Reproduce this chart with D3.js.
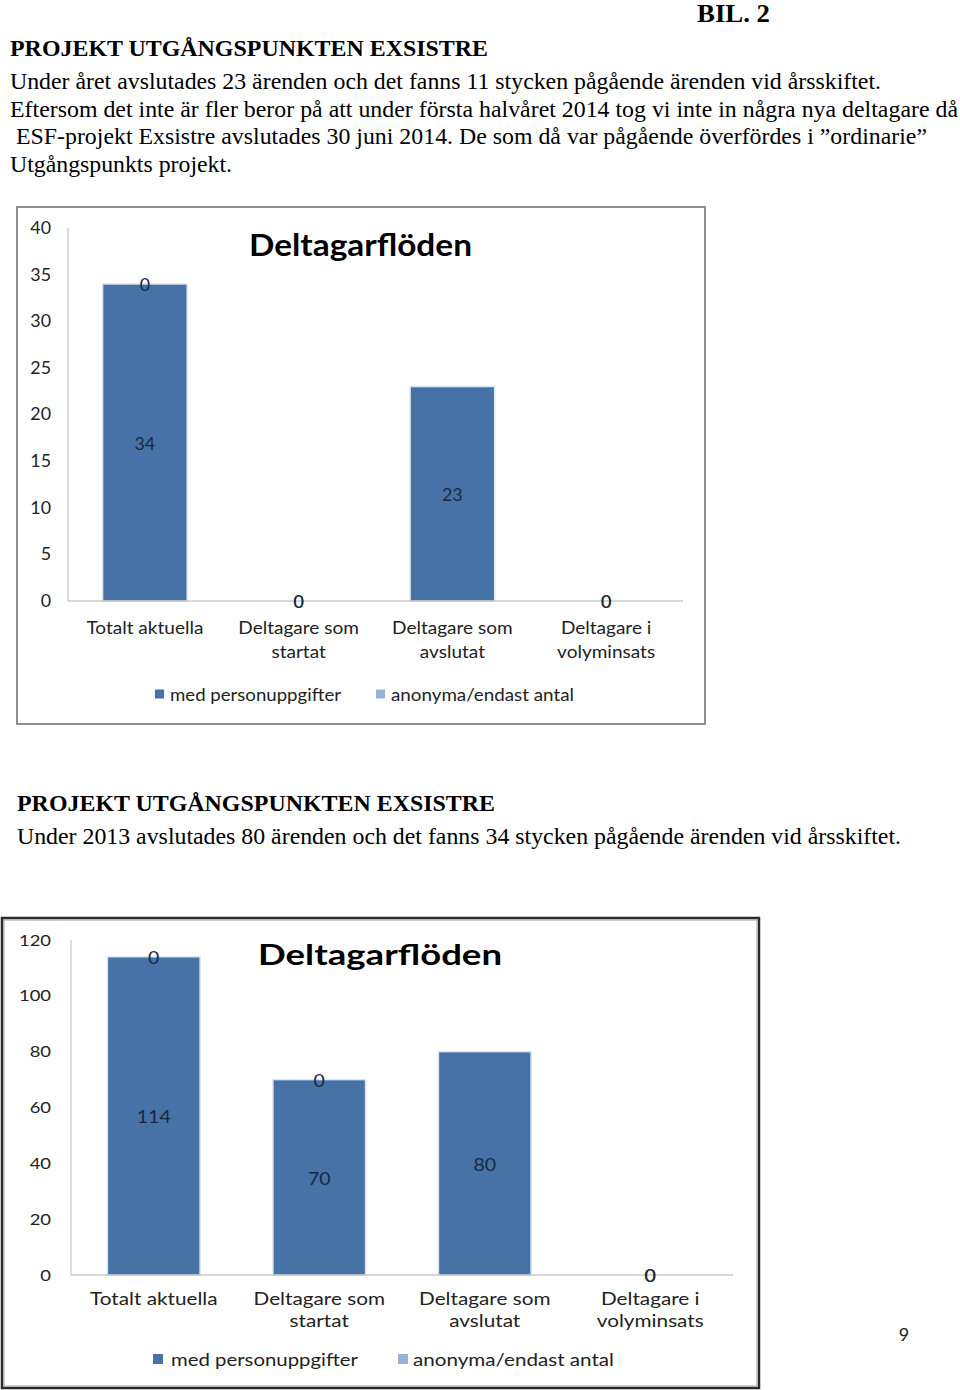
<!DOCTYPE html>
<html><head><meta charset="utf-8">
<script src="https://cdn.jsdelivr.net/npm/d3@7/dist/d3.min.js"></script>
<style>html,body{margin:0;padding:0;background:#fff;}svg{display:block;}</style>
</head><body>
<script>
// ---- Data ----
const categories = ["Totalt aktuella", "Deltagare som startat", "Deltagare som avslutat", "Deltagare i volyminsats"];
const categoryLines = [["Totalt aktuella"], ["Deltagare som", "startat"], ["Deltagare som", "avslutat"], ["Deltagare i", "volyminsats"]];
const seriesNames = ["med personuppgifter", "anonyma/endast antal"];
const chart1Med = [34, 0, 23, 0];
const chart1Anon = [0, 0, null, 0];
const chart1Ticks = [0, 5, 10, 15, 20, 25, 30, 35, 40];
const chart2Med = [114, 70, 80, 0];
const chart2Anon = [0, 0, null, 0];
const chart2Ticks = [0, 20, 40, 60, 80, 100, 120];
const chartTitle = "Deltagarflöden";

const textBlock1 = [
  "Under året avslutades 23 ärenden och det fanns 11 stycken pågående ärenden vid årsskiftet.",
  "Eftersom det inte är fler beror på att under första halvåret 2014 tog vi inte in några nya deltagare då",
  " ESF-projekt Exsistre avslutades 30 juni 2014. De som då var pågående överfördes i ”ordinarie”",
  "Utgångspunkts projekt."
];
const heading = "PROJEKT UTGÅNGSPUNKTEN EXSISTRE";
const textBlock2 = "Under 2013 avslutades 80 ärenden och det fanns 34 stycken pågående ärenden vid årsskiftet.";

const colors = ["#4672a8", "#95b3d7"];
const serif = "'Liberation Serif','Times New Roman',serif";
const sans = "Lato,'Open Sans',sans-serif";

const svg = d3.select("body").append("svg").attr("width", 960).attr("height", 1390);

// ---- Page text ----
function ptext(str, x, y, size, weight, len) {
  const t = svg.append("text").attr("x", x).attr("y", y)
    .attr("font-family", serif).attr("font-size", size).attr("font-weight", weight || "normal")
    .attr("fill", "#000").attr("xml:space", "preserve").text(str);
  if (len) t.attr("textLength", len).attr("lengthAdjust", "spacingAndGlyphs");
  return t;
}
ptext("BIL. 2", 697, 22, 25, "bold", 73);
ptext(heading, 10, 56, 23, "bold", 478);
const body1Len = [871, 948, 917, 222];
textBlock1.forEach((s, i) => ptext(s, 10, 89 + i * 27.7, 23, "normal", body1Len[i]));
ptext(heading, 17, 811, 23, "bold", 478);
ptext(textBlock2, 17, 844, 23, "normal", 884);

svg.append("text").attr("x", 904).attr("y", 1341).attr("text-anchor", "middle")
  .attr("font-family", sans).attr("font-size", 18).attr("fill", "#222").text("9");

// ---- Chart function ----
function drawChart(cfg) {
  const g = svg.append("g");
  if (cfg.dark) {
    g.append("rect").attr("x", cfg.frame[0]).attr("y", cfg.frame[1]).attr("width", cfg.frame[2]).attr("height", cfg.frame[3])
      .attr("fill", "#fff").attr("stroke", "#2a2a2a").attr("stroke-width", 2.5);
    g.append("rect").attr("x", cfg.frame[0] + 2).attr("y", cfg.frame[1] + 2).attr("width", cfg.frame[2] - 4).attr("height", cfg.frame[3] - 4)
      .attr("fill", "none").attr("stroke", "#a0a0a0").attr("stroke-width", 1);
  } else {
    g.append("rect").attr("x", cfg.frame[0]).attr("y", cfg.frame[1]).attr("width", cfg.frame[2]).attr("height", cfg.frame[3])
      .attr("fill", "#fff").attr("stroke", "#8e8e8e").attr("stroke-width", 2);
  }

  const x = d3.scaleBand().domain(categories).range(cfg.xRange).paddingInner(cfg.padInner).paddingOuter(cfg.padInner / 2);
  const y = d3.scaleLinear().domain([0, d3.max(cfg.ticks)]).range(cfg.yRange);

  const rows = categories.map((c, i) => ({ cat: c, med: cfg.med[i], anon: cfg.anon[i] === null ? 0 : cfg.anon[i], anonLabel: cfg.anon[i] }));
  const stack = d3.stack().keys(["med", "anon"])(rows);

  g.append("line").attr("x1", cfg.xRange[0]).attr("x2", cfg.xRange[0]).attr("y1", cfg.yRange[1]).attr("y2", cfg.yRange[0])
    .attr("stroke", "#c4c4c4").attr("stroke-width", 1.2);
  const yAxis = d3.axisLeft(y).tickValues(cfg.ticks).tickSize(0).tickPadding(cfg.tickPad);
  const ya = g.append("g").attr("transform", `translate(${cfg.xRange[0]},0)`).call(yAxis);
  ya.select(".domain").remove();
  ya.selectAll("text").attr("font-family", sans).attr("font-size", cfg.tickFont).attr("fill", "#222")
    .attr("transform", `scale(${cfg.sx},1)`).attr("x", -cfg.tickPad / cfg.sx);

  stack.forEach((layer, li) => {
    g.append("g").selectAll("rect").data(layer).join("rect")
      .attr("x", d => x(d.data.cat)).attr("width", x.bandwidth())
      .attr("y", d => y(d[1])).attr("height", d => y(d[0]) - y(d[1]))
      .attr("fill", colors[li])
      .attr("stroke", d => (y(d[0]) - y(d[1])) > 0 ? "#dde6f0" : "none").attr("stroke-width", 1.5);
  });

  g.append("line").attr("x1", cfg.xRange[0]).attr("x2", cfg.xRange[1]).attr("y1", y(0)).attr("y2", y(0))
    .attr("stroke", "#b0b0b0").attr("stroke-width", 1.2);

  stack.forEach((layer, li) => {
    g.append("g").selectAll("text").data(layer.filter(d => li === 0 || d.data.anonLabel !== null)).join("text")
      .attr("text-anchor", "middle").attr("dominant-baseline", "central")
      .attr("font-family", sans).attr("font-size", cfg.labelFont).attr("fill", "#1a2a40")
      .attr("transform", d => `translate(${x(d.data.cat) + x.bandwidth() / 2},${(y(d[0]) + y(d[1])) / 2 + 1}) scale(${cfg.sx},1)`)
      .text(d => li === 0 ? d.data.med : d.data.anonLabel);
  });

  categories.forEach((c, i) => {
    const t = g.append("text").attr("text-anchor", "middle")
      .attr("transform", `translate(${x(c) + x.bandwidth() / 2},${cfg.catY}) scale(${cfg.catSx},1)`)
      .attr("font-family", sans).attr("font-size", cfg.catFont).attr("fill", "#222");
    categoryLines[i].forEach((ln, j) => t.append("tspan").attr("x", 0).attr("y", j * cfg.catLine).text(ln));
  });

  g.append("text").attr("x", cfg.title[0]).attr("y", cfg.title[1])
    .attr("font-family", sans).attr("font-weight", "bold").attr("font-size", cfg.titleFont).attr("fill", "#000")
    .attr("textLength", cfg.title[2]).attr("lengthAdjust", "spacingAndGlyphs").text(chartTitle);

  seriesNames.forEach((s, i) => {
    const L = cfg.legend[i];
    g.append("rect").attr("x", L[0]).attr("y", cfg.legendY - L[1] / 2).attr("width", L[1]).attr("height", L[1]).attr("fill", colors[i]);
    g.append("text").attr("x", L[2]).attr("y", cfg.legendY).attr("dominant-baseline", "central")
      .attr("font-family", sans).attr("font-size", cfg.legendFont).attr("fill", "#222")
      .attr("textLength", L[3]).attr("lengthAdjust", "spacingAndGlyphs").text(s);
  });
}

drawChart({
  frame: [17, 207, 688, 517], dark: false,
  xRange: [68, 683], yRange: [601, 228], padInner: 0.45,
  med: chart1Med, anon: chart1Anon, ticks: chart1Ticks,
  tickPad: 17, tickFont: 17, labelFont: 17, sx: 1.05,
  catY: 634, catFont: 17, catSx: 1.12, catLine: 24,
  title: [249, 256, 223], titleFont: 30,
  legendY: 694, legendFont: 17,
  legend: [[155, 9, 170, 171], [376, 9, 391, 183]]
});

drawChart({
  frame: [2, 918, 757, 470], dark: true,
  xRange: [71, 733], yRange: [1275, 940], padInner: 0.44,
  med: chart2Med, anon: chart2Anon, ticks: chart2Ticks,
  tickPad: 20, tickFont: 16, labelFont: 17, sx: 1.15,
  catY: 1305, catFont: 17, catSx: 1.22, catLine: 22,
  title: [258, 965, 244], titleFont: 29,
  legendY: 1359, legendFont: 18,
  legend: [[153, 10, 171, 187], [398, 10, 413, 201]]
});
</script>
</body></html>
